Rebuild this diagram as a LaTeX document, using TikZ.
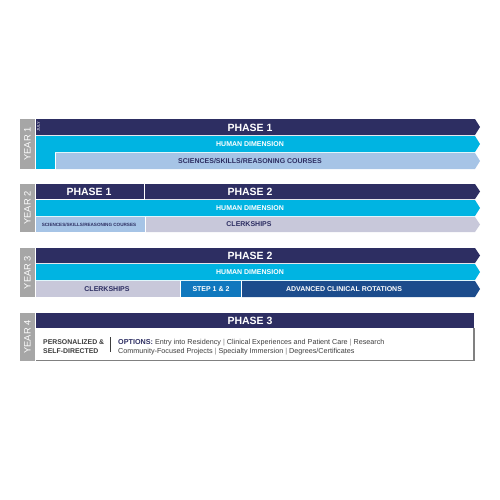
\documentclass[tikz,border=0pt]{standalone}
\usepackage{fontspec}
\setmainfont{Liberation Sans}
\usetikzlibrary{positioning}
\definecolor{navy}{RGB}{45,46,98}
\definecolor{cyanbar}{RGB}{0,180,226}
\definecolor{lightbar}{RGB}{166,196,230}
\definecolor{clerkbar}{RGB}{200,200,218}
\definecolor{stepbar}{RGB}{16,120,190}
\definecolor{advbar}{RGB}{28,76,140}
\definecolor{yeargrey}{RGB}{166,166,166}
\definecolor{txtgrey}{RGB}{60,60,60}
\newcommand{\tipbar}[4]{\fill[#1] (#2,#3) -- (475,#3) -- (480,{(#3+#4)/2}) -- (475,#4) -- (#2,#4) -- cycle;}
\newcommand{\sep}{ {\color{gray}|} }
\begin{document}
\begin{tikzpicture}[x=1pt,y=-1pt,
    phase/.style={text=white,font=\fontsize{10.5}{12}\selectfont\bfseries,inner sep=0},
    lbl/.style={font=\fontsize{7}{8}\selectfont\bfseries,inner sep=0},
    year/.style={text=white,rotate=90,font=\fontsize{9.3}{10}\selectfont,inner sep=0}]
\useasboundingbox (0,0) rectangle (500,500);

% year 1
\fill[yeargrey] (20,119) rectangle (35,169);
\node[year] (y1) at (27.5,144) {YEAR 1};
\tipbar{navy}{36}{119}{135}
\tipbar{cyanbar}{36}{136}{152}
\fill[cyanbar] (36,152) rectangle (55,169);
\tipbar{lightbar}{56}{153}{169}
\node[rotate=90,text=white!70!navy,font=\fontsize{4}{4}\selectfont\bfseries,inner sep=0] (july) at (38.5,127) {JULY};
\node[phase] (ph1) at (250,127.5) {PHASE 1};
\node[lbl,text=white] (hd1) at (250,144.5) {HUMAN DIMENSION};
\node[lbl,text=navy] (sc1) at (250,161.5) {SCIENCES/SKILLS/REASONING COURSES};

% year 2
\fill[yeargrey] (20,184) rectangle (35,232);
\node[year] (y2) at (27.5,208) {YEAR 2};
\fill[navy] (36,184) rectangle (144,199);
\tipbar{navy}{145}{184}{199}
\tipbar{cyanbar}{36}{200}{216}
\fill[lightbar] (36,217) rectangle (145,232);
\tipbar{clerkbar}{146}{217}{232}
\node[phase] (ph2a) at (89,191.5) {PHASE 1};
\node[phase] (ph2b) at (250,191.5) {PHASE 2};
\node[lbl,text=white] (hd2) at (250,208.5) {HUMAN DIMENSION};
\node[text=navy,font=\fontsize{4.6}{5}\selectfont\bfseries,inner sep=0] (sc2) at (89,224.5) {SCIENCES/SKILLS/REASONING COURSES};
\node[lbl,text=navy] (ck2) at (249,224.5) {CLERKSHIPS};

% year 3
\fill[yeargrey] (20,248) rectangle (35,297);
\node[year] (y3) at (27.5,272.5) {YEAR 3};
\tipbar{navy}{36}{248}{263}
\tipbar{cyanbar}{36}{264}{280}
\fill[clerkbar] (36,281) rectangle (180,297);
\fill[stepbar] (181,281) rectangle (241,297);
\tipbar{advbar}{242}{281}{297}
\node[phase] (ph3) at (250,255.5) {PHASE 2};
\node[lbl,text=white] (hd3) at (250,272) {HUMAN DIMENSION};
\node[lbl,text=navy] (ck3) at (107,289) {CLERKSHIPS};
\node[lbl,text=white] (st3) at (211,289) {STEP 1 \& 2};
\node[lbl,text=white] (ad3) at (344,289) {ADVANCED CLINICAL ROTATIONS};

% year 4
\fill[yeargrey] (20,313) rectangle (35,361);
\node[year] (y4) at (27.5,337) {YEAR 4};
\fill[navy] (36,313) rectangle (474,328);
\draw[gray,line width=1.5pt] (474,328) -- (474,360.5) -- (36,360.5);
\node[phase] (ph4) at (250,320.5) {PHASE 3};
\node[anchor=west,align=left,text=txtgrey,font=\fontsize{6.9}{9}\selectfont\bfseries,inner sep=0] (pers) at (43,347) {PERSONALIZED \&\\SELF-DIRECTED};
\draw[txtgrey,line width=0.8pt] (110,337) -- (110,352);
\node[anchor=west,align=left,text=txtgrey,font=\fontsize{7.2}{9}\selectfont,inner sep=0] (opt) at (118,347) {{\color{navy}\bfseries OPTIONS:} Entry into Residency\sep Clinical Experiences and Patient Care\sep Research\\Community-Focused Projects\sep Specialty Immersion\sep Degrees/Certificates};
\end{tikzpicture}
\end{document}
